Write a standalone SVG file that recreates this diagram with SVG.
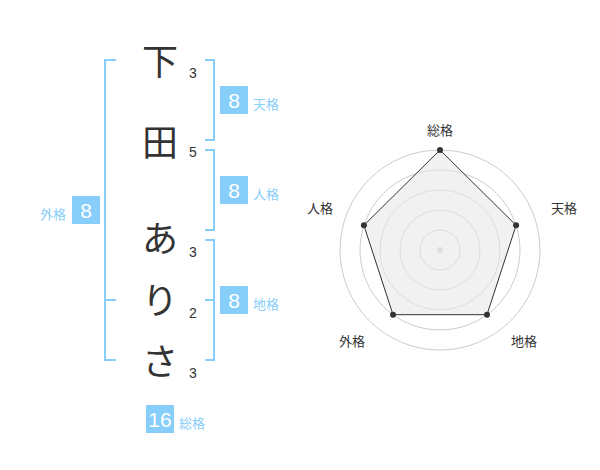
<svg xmlns="http://www.w3.org/2000/svg" width="600" height="470" viewBox="0 0 600 470">
<style>
.ch{font-family:"Noto Sans CJK JP","Noto Sans",sans-serif;font-size:36px;fill:#333;text-anchor:middle}
.num{font-family:"Liberation Sans",Arial,sans-serif;font-size:14px;fill:#333;text-anchor:middle}
.br{fill:none;stroke:#87cefa;stroke-width:2}
.box{fill:#87cefa}
.bt{font-family:"Liberation Sans",Arial,sans-serif;font-size:21px;fill:#fff;text-anchor:middle}
.lb{font-family:"Noto Sans CJK JP","Noto Sans",sans-serif;font-size:13px;fill:#87cefa}
.rl{font-family:"Noto Sans CJK JP","Noto Sans",sans-serif;font-size:13px;fill:#333;text-anchor:middle}
.ring{fill:none;stroke:#ccc;stroke-width:1}
</style>
<rect width="600" height="470" fill="#fff"/>
<g id="name">
<text class="ch" x="160" y="75">下</text>
<text class="ch" x="160" y="156">田</text>
<text class="ch" x="160" y="252">あ</text>
<text class="ch" x="160" y="314">り</text>
<text class="ch" x="160" y="375">さ</text>
<text class="num" x="193" y="78">3</text>
<text class="num" x="193" y="157">5</text>
<text class="num" x="193" y="257">3</text>
<text class="num" x="193" y="318">2</text>
<text class="num" x="193" y="378">3</text>
</g>
<g id="connectors">
<path class="br" d="M116,60 H105 V360 H116 M105,300 H116"/>
<path class="br" d="M205,60 H214 V140 H205"/>
<path class="br" d="M205,150 H214 V230 H205"/>
<path class="br" d="M205,240 H214 V360 H205 M205,300 H214"/>
</g>
<g id="tenkaku">
<rect class="box" x="220" y="86" width="28" height="28"/>
<text class="bt" x="234" y="107.5">8</text>
<text class="lb" x="253" y="108.5">天格</text>
</g>
<g id="jinkaku">
<rect class="box" x="220" y="176" width="28" height="28"/>
<text class="bt" x="234" y="197.5">8</text>
<text class="lb" x="253" y="198.5">人格</text>
</g>
<g id="chikaku">
<rect class="box" x="220" y="286" width="28" height="28"/>
<text class="bt" x="234" y="307.5">8</text>
<text class="lb" x="253" y="308.5">地格</text>
</g>
<g id="gaikaku">
<rect class="box" x="72" y="196" width="28" height="28"/>
<text class="bt" x="86" y="217.5">8</text>
<text class="lb" x="66" y="218.5" text-anchor="end">外格</text>
</g>
<g id="soukaku">
<rect class="box" x="146" y="405" width="28" height="28"/>
<text class="bt" x="160" y="426.5">16</text>
<text class="lb" x="179" y="427.5">総格</text>
</g>
<g id="radar">
<circle class="ring" cx="440" cy="250" r="20"/>
<circle class="ring" cx="440" cy="250" r="40"/>
<circle class="ring" cx="440" cy="250" r="60"/>
<circle class="ring" cx="440" cy="250" r="80"/>
<circle class="ring" cx="440" cy="250" r="100"/>
<circle cx="440" cy="250" r="3" fill="#ccc"/>
<polygon points="440,150 516.1,225.3 487,314.7 393,314.7 363.9,225.3" fill="#e8e8e8" fill-opacity="0.6" stroke="#333" stroke-width="1"/>
<g fill="#333">
<circle cx="440" cy="150" r="3"/>
<circle cx="516.1" cy="225.3" r="3"/>
<circle cx="487" cy="314.7" r="3"/>
<circle cx="393" cy="314.7" r="3"/>
<circle cx="363.9" cy="225.3" r="3"/>
</g>
<text class="rl" x="440" y="135">総格</text>
<text class="rl" x="564" y="213">天格</text>
<text class="rl" x="524" y="346">地格</text>
<text class="rl" x="352" y="346">外格</text>
<text class="rl" x="320" y="213">人格</text>
</g>
</svg>
